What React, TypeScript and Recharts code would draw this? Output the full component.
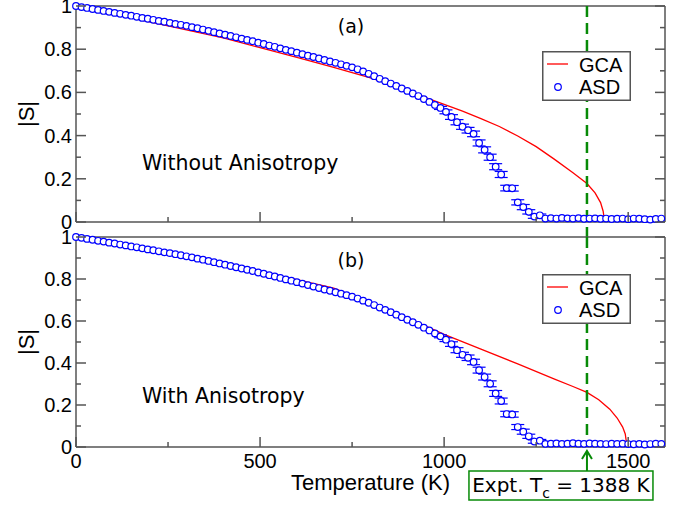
import React from 'react';
import { ComposedChart, Scatter, Line, XAxis, YAxis, ErrorBar, ReferenceLine, Legend } from 'recharts';

// ---------------- data ----------------
const TEMPS = [
  0, 15, 30, 45, 60, 75, 90, 105, 120, 135,
  150, 165, 180, 195, 210, 225, 240, 255, 270, 285,
  300, 315, 330, 345, 360, 375, 390, 405, 420, 435,
  450, 465, 480, 495, 510, 525, 540, 555, 570, 585,
  600, 615, 630, 645, 660, 675, 690, 705, 720, 735,
  750, 765, 780, 795, 810, 825, 840, 855, 870, 885,
  900, 915, 930, 945, 960, 975, 990, 1005, 1020, 1035,
  1050, 1065, 1080, 1095, 1110, 1125, 1140, 1155, 1170, 1185,
  1200, 1215, 1230, 1245, 1260, 1275, 1290, 1305, 1320, 1335,
  1350, 1365, 1380, 1395, 1410, 1425, 1440, 1455, 1470, 1485,
  1500, 1515, 1530, 1545, 1560, 1575, 1590,
];

const ASD_A = [
  1.000, 0.995, 0.991, 0.986, 0.982, 0.977, 0.973, 0.968, 0.964, 0.959,
  0.955, 0.950, 0.945, 0.941, 0.936, 0.931, 0.927, 0.922, 0.917, 0.913,
  0.908, 0.902, 0.897, 0.891, 0.885, 0.879, 0.873, 0.867, 0.861, 0.855,
  0.849, 0.843, 0.837, 0.830, 0.824, 0.817, 0.811, 0.804, 0.797, 0.791,
  0.784, 0.777, 0.770, 0.764, 0.757, 0.750, 0.743, 0.737, 0.730, 0.723,
  0.716, 0.707, 0.697, 0.686, 0.675, 0.663, 0.652, 0.641, 0.630, 0.618,
  0.607, 0.595, 0.583, 0.569, 0.556, 0.542, 0.528, 0.510, 0.486, 0.462,
  0.441, 0.425, 0.408, 0.366, 0.334, 0.300, 0.256, 0.220, 0.157, 0.156,
  0.091, 0.069, 0.047, 0.025, 0.031, 0.016, 0.018, 0.016, 0.019, 0.017,
  0.016, 0.018, 0.015, 0.016, 0.017, 0.015, 0.016, 0.014, 0.015, 0.016,
  0.013, 0.016, 0.015, 0.013, 0.011, 0.014, 0.016,
];

const ERR_A = [
  0, 0, 0, 0, 0, 0, 0, 0, 0, 0,
  0, 0, 0, 0, 0, 0, 0, 0, 0, 0,
  0, 0, 0, 0, 0, 0, 0, 0, 0, 0,
  0, 0, 0, 0, 0, 0, 0, 0, 0, 0,
  0, 0, 0, 0, 0, 0, 0, 0, 0, 0,
  0, 0, 0, 0, 0, 0, 0, 0, 0, 0,
  0, 0, 0, 0, 0, 0, 0.007, 0.009, 0.011, 0.012,
  0.012, 0.013, 0.013, 0.014, 0.014, 0.014, 0.014, 0.014, 0.013, 0.013,
  0.012, 0.012, 0.010, 0.008, 0.006, 0, 0, 0, 0, 0,
  0, 0, 0, 0, 0, 0, 0, 0, 0, 0,
  0, 0, 0, 0, 0, 0, 0,
];

const ASD_B = [
  1.000, 0.996, 0.991, 0.987, 0.982, 0.978, 0.973, 0.969, 0.964, 0.960,
  0.955, 0.951, 0.946, 0.941, 0.937, 0.932, 0.927, 0.923, 0.918, 0.913,
  0.908, 0.903, 0.897, 0.892, 0.886, 0.880, 0.874, 0.868, 0.862, 0.856,
  0.850, 0.844, 0.838, 0.831, 0.825, 0.818, 0.812, 0.805, 0.798, 0.792,
  0.785, 0.778, 0.771, 0.764, 0.757, 0.750, 0.744, 0.737, 0.730, 0.723,
  0.716, 0.707, 0.697, 0.687, 0.676, 0.664, 0.653, 0.642, 0.630, 0.618,
  0.606, 0.594, 0.582, 0.568, 0.555, 0.541, 0.527, 0.511, 0.490, 0.461,
  0.439, 0.425, 0.405, 0.366, 0.333, 0.301, 0.255, 0.219, 0.157, 0.155,
  0.095, 0.073, 0.051, 0.026, 0.030, 0.015, 0.016, 0.017, 0.015, 0.016,
  0.018, 0.016, 0.015, 0.017, 0.016, 0.015, 0.014, 0.016, 0.015, 0.016,
  0.014, 0.013, 0.015, 0.012, 0.014, 0.016, 0.015,
];

const ERR_B = [
  0, 0, 0, 0, 0, 0, 0, 0, 0, 0,
  0, 0, 0, 0, 0, 0, 0, 0, 0, 0,
  0, 0, 0, 0, 0, 0, 0, 0, 0, 0,
  0, 0, 0, 0, 0, 0, 0, 0, 0, 0,
  0, 0, 0, 0, 0, 0, 0, 0, 0, 0,
  0, 0, 0, 0, 0, 0, 0, 0, 0, 0,
  0, 0, 0, 0, 0, 0, 0.007, 0.009, 0.011, 0.012,
  0.012, 0.013, 0.013, 0.014, 0.014, 0.014, 0.014, 0.014, 0.013, 0.013,
  0.012, 0.012, 0.010, 0.008, 0.006, 0, 0, 0, 0, 0,
  0, 0, 0, 0, 0, 0, 0, 0, 0, 0,
  0, 0, 0, 0, 0, 0, 0,
];

const GCA_A_T = [0, 100, 200, 300, 400, 500, 600, 700, 800, 850, 900, 950, 1000, 1050, 1100, 1150, 1200, 1250, 1300, 1350, 1388, 1410, 1425, 1432, 1436];
const GCA_A_S = [1.000, 0.964, 0.927, 0.889, 0.852, 0.807, 0.762, 0.716, 0.667, 0.640, 0.612, 0.576, 0.545, 0.513, 0.479, 0.442, 0.398, 0.349, 0.290, 0.228, 0.178, 0.135, 0.090, 0.050, 0.000];

const GCA_B_T = [0, 100, 200, 300, 400, 500, 600, 700, 800, 850, 900, 950, 1000, 1100, 1200, 1300, 1350, 1388, 1420, 1450, 1470, 1485, 1492, 1497];
const GCA_B_S = [1.000, 0.969, 0.937, 0.905, 0.872, 0.836, 0.797, 0.756, 0.688, 0.652, 0.616, 0.576, 0.536, 0.466, 0.396, 0.323, 0.288, 0.260, 0.225, 0.180, 0.138, 0.095, 0.062, 0.000];

const X_TICKS = [0, 250, 500, 750, 1000, 1250, 1500];
const Y_TICKS = [0, 0.1, 0.2, 0.3, 0.4, 0.5, 0.6, 0.7, 0.8, 0.9, 1];
const X_DOMAIN = [0, 1600];
const Y_DOMAIN = [0, 1];
const EXPT_TC = 1388;

const asdA = TEMPS.map((t, i) => ({ t, s: ASD_A[i], e: ERR_A[i] }));
const asdB = TEMPS.map((t, i) => ({ t, s: ASD_B[i], e: ERR_B[i] }));
const gcaA = GCA_A_T.map((t, i) => ({ t, s: GCA_A_S[i] }));
const gcaB = GCA_B_T.map((t, i) => ({ t, s: GCA_B_S[i] }));

// ---------------- styles ----------------
const W = 687;
const AXIS = '#555555';
const BLUE = '#0000ff';
const RED = '#ff0000';
const GREEN = '#078a07';
const TICK_FONT = '"Liberation Sans", Arial, sans-serif';
const NOTE_FONT = '"DejaVu Sans", sans-serif';
const GAP = 15;

const isMajorX = (v: number) => v % 500 === 0;
const isMajorY = (v: number) => Math.round(v * 10) % 2 === 0;
const fmtY = (v: number) => String(Math.round(v * 10) / 10);

function XTick(props: any) {
  const { payload, side, showLabel, axisY } = props;
  const x = Number(props.x);
  const y = axisY;
  const v = payload.value;
  const len = isMajorX(v) ? 10 : 5;
  const dir = side === 'top' ? 1 : -1;
  return (
    <g>
      <line x1={x} x2={x} y1={y} y2={y + dir * len} stroke={AXIS} strokeWidth={1.5} />
      {showLabel && isMajorX(v) ? (
        <text x={x} y={y + 21} textAnchor="middle" fontSize={20} fontFamily={TICK_FONT} fill="#000">
          {v}
        </text>
      ) : null}
    </g>
  );
}

function YTick(props: any) {
  const { payload, side, axisX } = props;
  const y = Number(props.y);
  const x = axisX;
  const v = payload.value;
  const len = isMajorY(v) ? 10 : 5;
  const dir = side === 'left' ? 1 : -1;
  return (
    <g>
      <line x1={x} x2={x + dir * len} y1={y} y2={y} stroke={AXIS} strokeWidth={1.5} />
      {side === 'left' && isMajorY(v) ? (
        <text x={x - 4} y={y + 7} textAnchor="end" fontSize={20} fontFamily={TICK_FONT} fill="#000">
          {fmtY(v)}
        </text>
      ) : null}
    </g>
  );
}

function YTitle(props: any) {
  const vb = props.viewBox || { x: 0, y: 0, width: 76, height: 0 };
  const cx = vb.x + 26;
  const cy = vb.y + vb.height / 2;
  return (
    <text x={cx} y={cy} transform={`rotate(-90 ${cx} ${cy})`} textAnchor="middle" dominantBaseline="central"
      fontSize={22} fontFamily={TICK_FONT} fill="#000">
      |S|
    </text>
  );
}

const Dot = (p: any) => (
  <circle cx={p.cx} cy={p.cy} r={3.3} fill="#ffffff" stroke={BLUE} strokeWidth={1.2} />
);

function LegendBox() {
  return (
    <svg width={89} height={50} style={{ display: 'block' }}>
      <rect x={0.75} y={0.75} width={87.5} height={48.5} fill="#fff" stroke={AXIS} strokeWidth={1.5} />
      <line x1={5} x2={26} y1={13} y2={13} stroke={RED} strokeWidth={1.3} />
      <circle cx={16} cy={36} r={3.3} fill="#fff" stroke={BLUE} strokeWidth={1.2} />
      <text x={37} y={20.5} fontSize={20} fontFamily={TICK_FONT} fill="#000">GCA</text>
      <text x={37} y={43} fontSize={20} fontFamily={TICK_FONT} fill="#000">ASD</text>
    </svg>
  );
}

function TopRefShape(p: any) {
  const y1 = Math.min(p.y1, p.y2);
  const y2 = Math.max(p.y1, p.y2);
  return <line x1={p.x1} x2={p.x2} y1={y1} y2={y2 + GAP} stroke={GREEN} strokeWidth={2.5} strokeDasharray="11 6" />;
}

function BottomRefShape(p: any) {
  const y1 = Math.min(p.y1, p.y2);
  const y2 = Math.max(p.y1, p.y2);
  const x = p.x1;
  const tip = y2 + 4;
  const boxTop = y2 + 24;
  return (
    <g>
      <line x1={x} x2={x} y1={y1} y2={y2} stroke={GREEN} strokeWidth={2.5} strokeDasharray="11 6" />
      <line x1={x} x2={x} y1={tip} y2={boxTop} stroke={GREEN} strokeWidth={2} />
      <polyline points={`${x - 5},${tip + 8} ${x},${tip} ${x + 5},${tip + 8}`} fill="none" stroke={GREEN} strokeWidth={2} />
      <rect x={x - 118} y={boxTop} width={184} height={29} fill="#fff" stroke={GREEN} strokeWidth={1.5} />
      <text x={x - 26} y={boxTop + 21} textAnchor="middle" fontSize={20} fontFamily={NOTE_FONT} fill="#000">
        <tspan>Expt. T</tspan>
        <tspan fontSize={14} dy={6}>c</tspan>
        <tspan dy={-6}>{` = ${EXPT_TC} K`}</tspan>
      </text>
    </g>
  );
}

// plot frame (pixels) for each panel
const PLOT_LEFT = 76;
const PLOT_RIGHT = 665;

function Panel(props: any) {
  const { asd, gca, height, plotTop, plotBottom, bottom, legendTop } = props;
  const margin = { top: plotTop - 1, right: W - PLOT_RIGHT - 1, bottom: height - plotBottom - 1, left: 0 };
  const lineStyle = { stroke: AXIS, strokeWidth: 1.5 };
  return (
    <ComposedChart width={W} height={height} margin={margin}>
      <XAxis xAxisId="b" dataKey="t" type="number" domain={X_DOMAIN} ticks={X_TICKS} interval={0}
        height={1} tickSize={0} tickMargin={0} axisLine={false} tickLine={false}
        tick={(p: any) => <XTick {...p} axisY={plotBottom} side="bottom" showLabel={bottom} />}
        label={bottom ? { value: 'Temperature (K)', position: 'bottom', offset: 26, fontSize: 22, fontFamily: TICK_FONT, fill: '#000' } : undefined}
      />
      <XAxis xAxisId="t" orientation="top" type="number" domain={X_DOMAIN} allowDataOverflow ticks={X_TICKS} interval={0}
        height={1} tickSize={0} tickMargin={0} axisLine={false} tickLine={false}
        tick={(p: any) => <XTick {...p} axisY={plotTop} side="top" showLabel={false} />}
      />
      <YAxis yAxisId="l" dataKey="s" type="number" domain={Y_DOMAIN} ticks={Y_TICKS} interval={0}
        width={PLOT_LEFT} tickSize={0} tickMargin={0} axisLine={false} tickLine={false}
        tick={(p: any) => <YTick {...p} axisX={PLOT_LEFT} side="left" />}
        label={<YTitle />}
      />
      <YAxis yAxisId="r" orientation="right" type="number" domain={Y_DOMAIN} allowDataOverflow ticks={Y_TICKS} interval={0}
        width={1} tickSize={0} tickMargin={0} axisLine={false} tickLine={false}
        tick={(p: any) => <YTick {...p} axisX={PLOT_RIGHT} side="right" />}
      />
      {/* frame */}
      <ReferenceLine xAxisId="b" yAxisId="l" x={X_DOMAIN[0]} {...lineStyle} ifOverflow="visible" />
      <ReferenceLine xAxisId="b" yAxisId="l" x={X_DOMAIN[1]} {...lineStyle} ifOverflow="visible" />
      <ReferenceLine xAxisId="b" yAxisId="l" y={Y_DOMAIN[0]} {...lineStyle} ifOverflow="visible" />
      <ReferenceLine xAxisId="b" yAxisId="l" y={Y_DOMAIN[1]} {...lineStyle} ifOverflow="visible" />
      <Line xAxisId="b" yAxisId="l" data={gca} dataKey="s" type="linear" stroke={RED} strokeWidth={1.3}
        dot={false} activeDot={false} isAnimationActive={false} name="GCA" />
      <Scatter xAxisId="b" yAxisId="l" data={asd} dataKey="s" shape={Dot} isAnimationActive={false} name="ASD">
        <ErrorBar dataKey="e" direction="y" width={6.5} stroke={BLUE} strokeWidth={1.2} isAnimationActive={false} />
      </Scatter>
      <ReferenceLine xAxisId="b" yAxisId="l" x={EXPT_TC} stroke={GREEN} shape={bottom ? BottomRefShape : TopRefShape} />
      <Legend layout="horizontal" verticalAlign="middle" align="center"
        wrapperStyle={{ left: 542, top: legendTop, width: 89, height: 50 }}
        content={() => <LegendBox />} />
    </ComposedChart>
  );
}

export default function App() {
  return (
    <div style={{ position: 'absolute', left: 0, top: 0, width: W, height: 506, background: '#fff' }}>
      <div style={{ position: 'absolute', left: 0, top: 0 }}>
        <Panel asd={asdA} gca={gcaA} height={237} plotTop={6} plotBottom={222} bottom={false} legendTop={51} />
      </div>
      <div style={{ position: 'absolute', left: 0, top: 0 }}>
        <Panel asd={asdB} gca={gcaB} height={506} plotTop={237} plotBottom={447} bottom={true} legendTop={274} />
      </div>
      <svg width={W} height={506} style={{ position: 'absolute', left: 0, top: 0, pointerEvents: 'none' }}>
        <text x={351} y={33} textAnchor="middle" fontSize={19} fontFamily={NOTE_FONT} fill="#000">(a)</text>
        <text x={142} y={170} fontSize={20.5} fontFamily={NOTE_FONT} fill="#000">Without Anisotropy</text>
        <text x={351} y={267} textAnchor="middle" fontSize={19} fontFamily={NOTE_FONT} fill="#000">(b)</text>
        <text x={142} y={403} fontSize={20.5} fontFamily={NOTE_FONT} fill="#000">With Anisotropy</text>
      </svg>
    </div>
  );
}
